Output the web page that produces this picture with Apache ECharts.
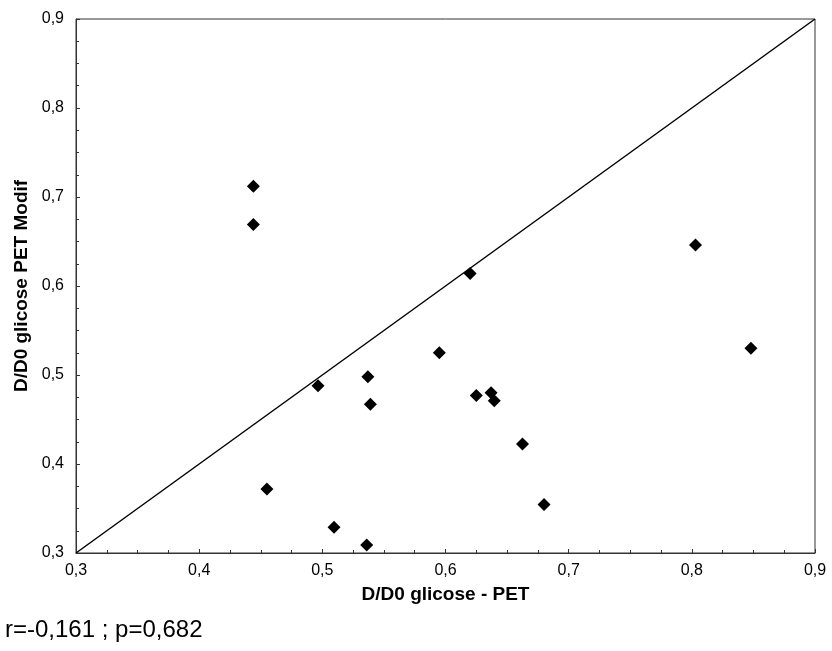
<!DOCTYPE html>
<html>
<head>
<meta charset="utf-8">
<script src="https://cdn.jsdelivr.net/npm/echarts@6/dist/echarts.min.js"></script>
<style>html,body{margin:0;padding:0;background:#fff}#c{width:832px;height:651px}</style>
</head>
<body>
<div id="c"></div>
<script>
var xValues = [0.444, 0.444, 0.620, 0.803, 0.4965, 0.537, 0.539, 0.455, 0.5095, 0.536, 0.595, 0.848, 0.625, 0.637, 0.6396, 0.6625, 0.680];
var yValues = [0.712, 0.669, 0.614, 0.646, 0.488, 0.498, 0.467, 0.372, 0.329, 0.309, 0.525, 0.530, 0.477, 0.480, 0.471, 0.4225, 0.3546];
var identityLine = [[0.3, 0.3], [0.9, 0.9]];
var axisMin = 0.3, axisMax = 0.9, axisStep = 0.1;
var xTitle = 'D/D0 glicose - PET';
var yTitle = 'D/D0 glicose PET Modif';
var note = 'r=-0,161 ; p=0,682';

var pts = xValues.map(function (x, i) { return [x, yValues[i]]; });
var fmt = function (v) { return v.toFixed(1).replace('.', ','); };
var font = 'Liberation Sans, Arial, sans-serif';

function axis(name, gap, margin) {
  return {
    type: 'value', min: axisMin, max: axisMax, interval: axisStep,
    name: name, nameLocation: 'middle', nameGap: gap,
    nameTextStyle: { fontFamily: font, fontWeight: 'bold', fontSize: 19, color: '#000' },
    axisLine: { show: true, lineStyle: { color: '#333', width: 1 } },
    axisTick: { show: true, inside: true, length: 4, lineStyle: { color: '#333' } },
    minorTick: { show: true, splitNumber: 4, length: 3, lineStyle: { color: '#333' } },
    splitLine: { show: false },
    axisLabel: { formatter: fmt, fontFamily: font, fontSize: 16, color: '#000', margin: margin }
  };
}

var chart = echarts.init(document.getElementById('c'));
chart.setOption({
  animation: false,
  grid: { left: 76, top: 19, right: 17, bottom: 98, show: true, borderColor: '#333', borderWidth: 1, backgroundColor: 'transparent' },
  xAxis: axis(xTitle, 32, 10),
  yAxis: axis(yTitle, 44, 12),
  graphic: [{ type: 'text', left: 5, top: 618, style: { text: note, fontFamily: font, fontSize: 24, fill: '#000' } }],
  series: [
    { type: 'line', data: identityLine, symbol: 'none', lineStyle: { color: '#000', width: 1.5 }, silent: true, z: 1 },
    { type: 'scatter', data: pts, symbol: 'diamond', symbolSize: 13, itemStyle: { color: '#000', opacity: 1 }, z: 2 }
  ]
});
</script>
</body>
</html>
